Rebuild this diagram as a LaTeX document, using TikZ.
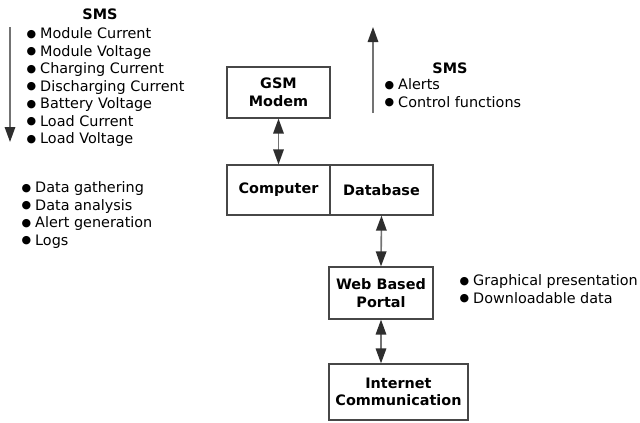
\documentclass[tikz,border=0pt]{standalone}
\usepackage{fontspec}
\setmainfont{DejaVu Sans}
\usetikzlibrary{arrows.meta}
\tikzset{
  box/.style={draw=black!72, line width=1.2pt, fill=white, font=\fontsize{14.4}{17.5}\selectfont\bfseries, align=center, inner sep=0pt},
  flow/.style={draw=black!55, line width=1.6pt, -{Triangle[length=15pt,width=10.5pt,fill=black!82,color=black!82]}},
  flowboth/.style={draw=black!55, line width=1.6pt,
    {Triangle[length=15pt,width=10.5pt,fill=black!82,color=black!82]}-{Triangle[length=15pt,width=10.5pt,fill=black!82,color=black!82]}},
  list/.style={align=left, anchor=north west, inner sep=0pt, font=\fontsize{14.4}{17.5}\selectfont},
  head/.style={font=\fontsize{14.4}{17}\selectfont\bfseries, inner sep=0pt},
}
\newcommand{\itm}{\makebox[13.5pt][l]{\raisebox{1.4pt}{\fontsize{11}{11}\selectfont ●}}}
\begin{document}
\begin{tikzpicture}[x=1pt,y=-1pt]
\useasboundingbox (0,0) rectangle (640,423);

% blocks
\node[box, minimum width=103pt, minimum height=51pt] (gsm) at (278.5,92.5) {GSM\\Modem};
\node[box, minimum width=103pt, minimum height=50pt] (comp) at (278.5,190) {Computer};
\node[box, minimum width=103pt, minimum height=50pt] (db) at (381.5,190) {Database};
\node[box, minimum width=104pt, minimum height=52pt] (portal) at (381,293) {Web Based\\Portal};
\node[box, minimum width=139pt, minimum height=56pt] (inet) at (398.5,392) {Internet\\Communication};

% SMS flows
\coordinate (inTop) at (10,27);
\coordinate (inBot) at (10,142);
\coordinate (outBot) at (373,113);
\coordinate (outTop) at (373,27);
\draw[flow] (inTop) -- (inBot);
\draw[flow] (outBot) -- (outTop);

% links between blocks
\draw[flowboth] (gsm.south) -- (comp.north);
\draw[flowboth] (db.south) -- (portal.north);
\draw[flowboth] (portal.south) -- (portal.south |- inet.north);

% labels
\node[head] (smsIn) at (100,14) {SMS};
\node[list] (inList) at (26.5,27.5) {\itm Module Current\\\itm Module Voltage\\\itm Charging Current\\\itm Discharging Current\\\itm Battery Voltage\\\itm Load Current\\\itm Load Voltage};
\node[head] (smsOut) at (450,68) {SMS};
\node[list] (outList) at (384.5,78.5) {\itm Alerts\\\itm Control functions};
\node[list] (tasks) at (21.5,181.5) {\itm Data gathering\\\itm Data analysis\\\itm Alert generation\\\itm Logs};
\node[list] (web) at (459.5,274.5) {\itm Graphical presentation\\\itm Downloadable data};
\end{tikzpicture}
\end{document}
